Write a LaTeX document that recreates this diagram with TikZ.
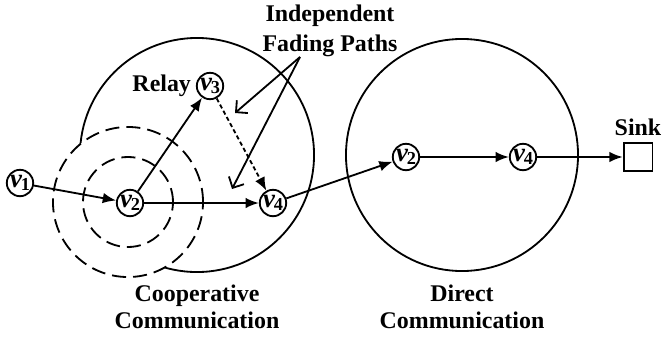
\documentclass[tikz,border=0pt]{standalone}
\usepackage{fontspec}
\setmainfont{Liberation Serif}
\usetikzlibrary{arrows.meta,positioning}

\tikzset{
  sensor/.style={draw, circle, line width=1.3pt, inner sep=0pt, minimum size=0.66cm, fill=white},
  zone/.style={draw, circle, line width=1.3pt, inner sep=0pt},
  reach/.style={draw, circle, dash pattern=on 10pt off 5pt, line width=1.3pt, fill=white, inner sep=0pt},
  link/.style={-{Latex[length=9.5pt,width=7.5pt]}, line width=1.3pt},
  fade/.style={-{Straight Barb[length=6pt,width=12pt]}, line width=1.3pt},
  lbl/.style={font=\fontsize{17}{19}\selectfont\bfseries, align=center}
}
\newcommand{\vsub}[1]{{\fontsize{19}{19}\selectfont\bfseries\itshape v}\kern-0.8pt\raisebox{-0.45ex}{\fontsize{13}{13}\selectfont\bfseries #1}}

\begin{document}
\begin{tikzpicture}[x=0.025cm, y=-0.025cm]
\useasboundingbox (0,0) rectangle (663,336);

% coverage areas
\node[zone, minimum size=5.85cm] (coop) at (197,155) {};
\node[zone, minimum size=5.8cm] (direct) at (462,155) {};
\node[reach, minimum size=3.75cm] (outer) at (128,202) {};
\node[reach, minimum size=2.25cm] (inner) at (128,202) {};

% nodes
\node[sensor] (v1) at (20,183) {\vsub{1}};
\node[sensor] (v2) at (130,203) {\vsub{2}};
\node[sensor] (v3) at (210,86) {\vsub{3}};
\node[sensor] (v4) at (273,203) {\vsub{4}};
\node[sensor] (v2r) at (406,157) {\vsub{2}};
\node[sensor] (v4r) at (523,157) {\vsub{4}};
\node[draw, line width=1.3pt, minimum size=0.72cm, inner sep=0pt] (sink) at (638,157) {};

% labels
\node[lbl, left=0pt of v3] (relay) {Relay};
\node[lbl, above=1pt of sink] (sinklbl) {Sink};
\node[lbl, font=\fontsize{17}{21}\selectfont\bfseries] (fading) at (330,31) {Independent\\Fading Paths};
\node[lbl] (cooplbl) at (197,307) {Cooperative\\Communication};
\node[lbl] (directlbl) at (462,307) {Direct\\Communication};

% links
\draw[link] (v1) -- (v2);
\draw[link] (v2) -- (v3);
\draw[link] (v2) -- (v4);
\draw[link, dash pattern=on 3pt off 2pt] (v3) -- (v4);
\draw[link] (v4) -- (v2r);
\draw[link] (v2r) -- (v4r);
\draw[link] (v4r) -- (sink);

% fading paths
\coordinate (fork) at (300,57);
\coordinate (path1) at (235,113);
\coordinate (path2) at (232,189);
\draw[fade] (fork) -- (path1);
\draw[fade] (fork) -- (path2);
\end{tikzpicture}
\end{document}
